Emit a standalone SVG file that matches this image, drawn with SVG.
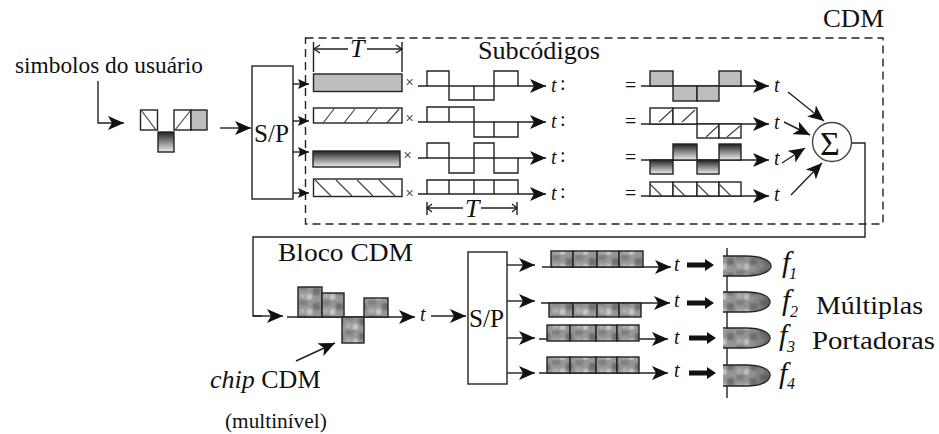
<svg xmlns="http://www.w3.org/2000/svg" width="939" height="434" viewBox="0 0 939 434">
<style>
text{font-family:"Liberation Serif",serif;fill:#111}
.i{font-style:italic}
.l{fill:none;stroke:#222;stroke-width:1.4}
.ht{fill:none;stroke:#444;stroke-width:1.2}
.b{fill:#fff;stroke:#222;stroke-width:1.4}
.g{fill:#bdbdbd;stroke:#222;stroke-width:1.4}
.gr{fill:url(#gd);stroke:#222;stroke-width:1.4}
.ch{fill:url(#chk);stroke:#222;stroke-width:1.4}
.pl{fill:url(#chk);stroke:#222;stroke-width:1.4}
.sd{fill:url(#sh);stroke:none}
.s{font-size:26px}
.t{font-size:20px}
.m{stroke:#222;stroke-width:1.4;fill:none;marker-end:url(#a)}
.m2{stroke:#222;stroke-width:1.4;fill:none;marker-end:url(#a2)}
.x{font-size:14px;font-family:"Liberation Sans",sans-serif;fill:#44546a;text-anchor:middle}
</style>
<defs>
<marker id="a" markerUnits="userSpaceOnUse" markerWidth="18" markerHeight="14" refX="16" refY="7" orient="auto"><path d="M0 0L16 7L0 14L4 7Z" fill="#111"/></marker>
<marker id="a2" markerUnits="userSpaceOnUse" markerWidth="12" markerHeight="10" refX="11" refY="5" orient="auto"><path d="M0 0L11 5L0 10L2 5Z" fill="#111"/></marker>
<linearGradient id="gd" x1="0" y1="0" x2="0" y2="1"><stop offset="0" stop-color="#222"/><stop offset="1" stop-color="#eee"/></linearGradient>
<filter id="bl" x="-10%" y="-10%" width="120%" height="120%"><feGaussianBlur stdDeviation="1"/></filter>
<pattern id="chk" patternUnits="userSpaceOnUse" width="23" height="15"><rect width="23" height="15" fill="#979797"/><g filter="url(#bl)"><rect x="0" y="0" width="8" height="5" fill="#7e7e7e"/><rect x="14" y="3" width="7" height="7" fill="#707070"/><rect x="8" y="9" width="5" height="6" fill="#cacaca"/><rect x="1" y="9" width="5" height="4" fill="#b4b4b4"/></g></pattern>
<linearGradient id="sh" x1="0" y1="0" x2="1" y2="0"><stop offset="0" stop-color="#555" stop-opacity="0"/><stop offset=".6" stop-color="#555" stop-opacity=".1"/><stop offset="1" stop-color="#444" stop-opacity=".75"/></linearGradient>
</defs>

<g id="cdm-frame"><rect x="305.500" y="38" width="577.500" height="186" fill="none" stroke="#222" stroke-width="1.4" stroke-dasharray="8 5"/>
<text x="823" y="27" class="s" textLength="61" lengthAdjust="spacingAndGlyphs">CDM</text>
<text x="478" y="59" class="s" textLength="122" lengthAdjust="spacingAndGlyphs">Subcódigos</text></g>

<g id="connectors">
<path class="m" d="M98 81V123H124"/>
<path class="m" d="M220 128H251"/>
<path class="m2" d="M293 84H309"/><path class="m2" d="M293 121H309"/><path class="m2" d="M293 152H309"/><path class="m2" d="M293 193H309"/>
<path class="m" d="M418 86H546"/><path class="m" d="M418 122H546"/><path class="m" d="M418 158H546"/><path class="m" d="M418 194H546"/>
<path class="m" d="M641 86H769"/><path class="m" d="M641 124H769"/><path class="m" d="M641 160H769"/><path class="m" d="M641 196H769"/>
<path class="m" d="M788 92L824 121"/><path class="m" d="M784 122L810 135"/><path class="m" d="M782 163L805 148"/><path class="m" d="M791 195L822 163"/>
<path class="l" d="M851 143H865V237H253V316H262"/>
<path class="m" d="M253 316H283"/>
<path class="m" d="M287 317H415"/>
<path class="m" d="M431 316H466"/>
<path class="m" d="M296 361L335 343"/>
<path class="m" d="M507 265H535"/><path class="m" d="M507 301H535"/><path class="m" d="M507 338H535"/><path class="m" d="M507 373H535"/>
<path class="m" d="M542 267H671"/><path class="m" d="M541 303H670"/><path class="m" d="M539 339H668"/><path class="m" d="M539 373H668"/>
<path d="M687 265H708M687 303H708M689 338H710M689 373H710" stroke="#111" stroke-width="5" fill="none"/>
<path d="M705 259L714 265L705 271ZM705 297L714 303L705 309ZM707 332L716 338L707 344ZM707 367L716 373L707 379Z" fill="#111"/>
<path class="l" d="M727 248V398"/>
</g>

<g id="simbolos"><text x="15" y="73" style="font-size:22.500px" textLength="188" lengthAdjust="spacingAndGlyphs">simbolos do usuário</text>
<rect class="b" x="140.500" y="110" width="17" height="20"/><path class="ht" d="M141 110L156 130"/>
<rect class="gr" x="158" y="132" width="16" height="20"/>
<rect class="b" x="174" y="110" width="17" height="20"/><path class="ht" d="M175 130L191 110"/>
<rect class="g" x="191" y="110" width="16" height="20"/></g>

<g id="sp1"><rect class="b" x="252" y="66" width="41" height="133"/><text x="254" y="142" class="s" textLength="35" lengthAdjust="spacingAndGlyphs">S/P</text></g>

<g id="simbolo-bars">
<path class="l" d="M313.500 42V72M402 42V72"/>
<path class="l" d="M314 49H348M367 49H401"/><path class="l" d="M320 45L314 49L320 53M396 45L402 49L396 53"/>
<text x="350" y="57" class="i s">T</text>
<rect class="g" x="313.500" y="74" width="88.500" height="17.500"/>
<rect class="b" x="313.500" y="108" width="88.500" height="15"/><path class="ht" d="M323 123L334 109M344 123L355 109M366 123L377 109M387 123L399 109"/>
<rect class="gr" x="313" y="151" width="87" height="16"/>
<rect class="b" x="313.500" y="179" width="88.500" height="17.500"/><path class="ht" d="M315 180L331 196M336 180L352 196M357 180L373 196M379 180L395 196"/>
<text x="409.500" y="87" class="x">×</text><text x="409.500" y="122.500" class="x">×</text><text x="407.500" y="160" class="x">×</text><text x="409.500" y="198" class="x">×</text>
</g>

<g id="codes">
<path class="l" d="M427 86V71H449V100H494V71H518V86M474 86V100"/>
<path class="l" d="M427 122V107H474V137H518V122M449 107V122M494 122V137"/>
<path class="l" d="M427 158V143H449V173H474V143H494V173H518V158"/>
<path class="l" d="M427 194V180H518V194M449 180V194M474 180V194M494 180V194"/>
<path class="l" d="M427 202V215M517 202V215M427 208H463M481 208H517"/><path class="l" d="M432 204L427 208L432 212M512 204L517 208L512 212"/>
<text x="465" y="217" class="i s">T</text>
</g>

<g id="t-labels">
<text x="551" y="92" class="i t">t</text><text x="560" y="90" class="t">:</text>
<text x="551" y="128" class="i t">t</text><text x="560" y="126" class="t">:</text>
<text x="551" y="164" class="i t">t</text><text x="560" y="162" class="t">:</text>
<text x="551" y="200" class="i t">t</text><text x="560" y="198" class="t">:</text>
<text x="625" y="92" class="t" style="font-size:20px">=</text><text x="625" y="128" class="t">=</text><text x="625" y="164" class="t">=</text><text x="625" y="200" class="t">=</text>
<text x="774" y="92" class="i t">t</text><text x="774" y="129" class="i t">t</text><text x="774" y="165" class="i t">t</text><text x="774" y="201" class="i t">t</text>
</g>

<g id="results">
<rect class="g" x="650" y="71" width="23" height="15"/><rect class="g" x="673" y="86" width="24" height="15"/><rect class="g" x="697" y="86" width="22" height="15"/><rect class="g" x="719" y="71" width="22" height="15"/>
<rect class="b" x="650" y="108" width="23" height="16"/><rect class="b" x="673" y="108" width="24" height="16"/><rect class="b" x="697" y="124" width="22" height="14"/><rect class="b" x="719" y="124" width="22" height="14"/>
<path class="ht" d="M659 122L672 110M682 122L695 110M706 137L718 126M727 137L740 126"/>
<rect class="gr" x="650" y="160" width="23" height="14"/><rect class="gr" x="673" y="144" width="24" height="16"/><rect class="gr" x="697" y="160" width="22" height="14"/><rect class="gr" x="719" y="144" width="22" height="16"/>
<rect class="b" x="650" y="182" width="23" height="14"/><rect class="b" x="673" y="182" width="24" height="14"/><rect class="b" x="697" y="182" width="22" height="14"/><rect class="b" x="719" y="182" width="22" height="14"/>
<path class="ht" d="M650 184L662 196M673 184L685 196M697 184L709 196M719 184L731 196"/>
</g>

<g id="soma"><circle cx="832" cy="142" r="19.500" fill="#fff" stroke="#444" stroke-width="1.400"/><text x="820" y="155" style="font-size:34px">Σ</text></g>

<g id="bloco"><text x="278" y="261" class="s" textLength="135" lengthAdjust="spacingAndGlyphs">Bloco CDM</text>
<rect class="ch" x="298" y="287" width="24" height="30"/><rect class="ch" x="322" y="293" width="22" height="24"/><rect class="ch" x="342" y="317" width="22" height="26"/><rect class="ch" x="364" y="298" width="24" height="19"/>
<text x="420" y="321" class="i t">t</text>
<text x="210" y="388" class="s"><tspan class="i">chip</tspan> CDM</text>
<text x="225" y="428" style="font-size:21.300px">(multinível)</text></g>

<g id="sp2"><rect class="b" x="468" y="252" width="39" height="132"/><text x="469" y="327" class="s" textLength="35" lengthAdjust="spacingAndGlyphs">S/P</text></g>

<g id="blocos">
<rect class="ch" x="551" y="251" width="22" height="16"/><rect class="ch" x="573" y="251" width="24" height="16"/><rect class="ch" x="597" y="251" width="22" height="16"/><rect class="ch" x="619" y="251" width="24" height="16"/>
<rect class="ch" x="549" y="303" width="24" height="14"/><rect class="ch" x="573" y="303" width="24" height="14"/><rect class="ch" x="597" y="303" width="22" height="14"/><rect class="ch" x="619" y="303" width="22" height="14"/>
<rect class="ch" x="547" y="325" width="23" height="16"/><rect class="ch" x="570" y="325" width="26" height="16"/><rect class="ch" x="596" y="325" width="21" height="16"/><rect class="ch" x="617" y="325" width="22" height="16"/>
<rect class="ch" x="547" y="357" width="23" height="16"/><rect class="ch" x="570" y="357" width="26" height="16"/><rect class="ch" x="596" y="357" width="21" height="16"/><rect class="ch" x="617" y="357" width="22" height="16"/>
<text x="674" y="271" class="i t">t</text><text x="674" y="307" class="i t">t</text><text x="674" y="344" class="i t">t</text><text x="674" y="377" class="i t">t</text>
</g>

<g id="portadoras">
<path class="pl" d="M723 256H746C762 256 771 261 771 266C771 271 762 276 746 276H723"/><path class="sd" d="M727 256H746C762 256 771 261 771 266C771 271 762 276 746 276H727Z"/>
<path class="pl" d="M723 292H746C762 292 770 297 770 302C770 307 762 312 746 312H723"/><path class="sd" d="M727 292H746C762 292 770 297 770 302C770 307 762 312 746 312H727Z"/>
<path class="pl" d="M723 328H746C762 328 770 333 770 338C770 343 762 348 746 348H723"/><path class="sd" d="M727 328H746C762 328 770 333 770 338C770 343 762 348 746 348H727Z"/>
<path class="pl" d="M723 365H746C762 365 770 370 770 375C770 381 762 386 746 386H723"/><path class="sd" d="M727 365H746C762 365 770 370 770 375C770 381 762 386 746 386H727Z"/>
<text x="782" y="272" class="i" style="font-size:30px">f</text><text x="789" y="279" class="i" style="font-size:16px">1</text>
<text x="782" y="310" class="i" style="font-size:30px">f</text><text x="790" y="317" class="i" style="font-size:16px">2</text>
<text x="779" y="345" class="i" style="font-size:30px">f</text><text x="787" y="352" class="i" style="font-size:16px">3</text>
<text x="779" y="383" class="i" style="font-size:30px">f</text><text x="787" y="389" class="i" style="font-size:16px">4</text>
<text x="816" y="314" class="s" textLength="107" lengthAdjust="spacingAndGlyphs">Múltiplas</text>
<text x="812" y="349" class="s" textLength="123" lengthAdjust="spacingAndGlyphs">Portadoras</text>
</g>
</svg>
